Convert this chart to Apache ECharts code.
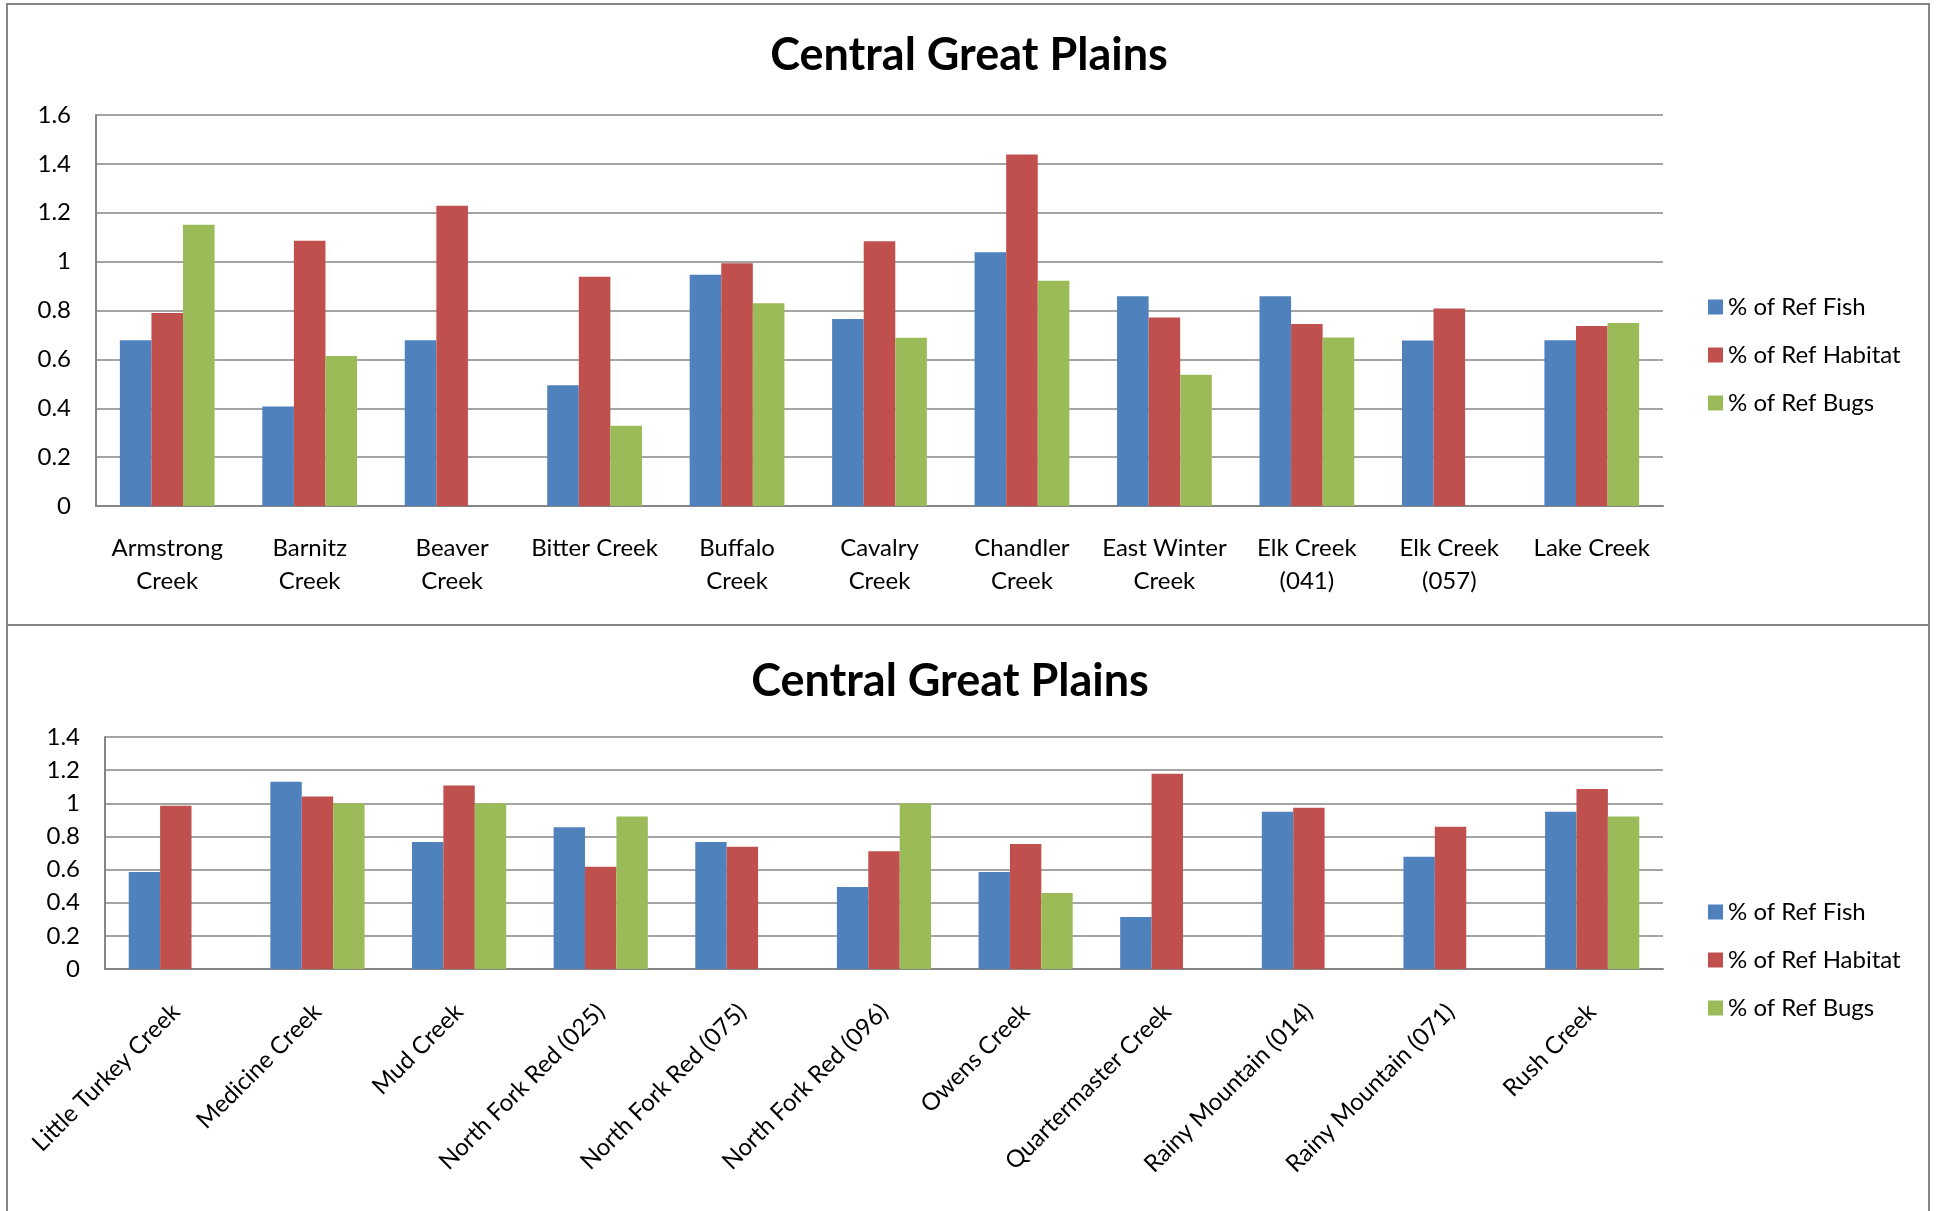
<!DOCTYPE html>
<html>
<head>
<meta charset="utf-8">
<script src="https://cdn.jsdelivr.net/npm/echarts@6/dist/echarts.min.js"></script>
<style>
  html, body { margin: 0; padding: 0; background: #fff; }
  #chart { width: 1936px; height: 1211px; }
</style>
</head>
<body>
<div id="chart"></div>
<script>
// ---- Data ----
const seriesNames = ['% of Ref Fish', '% of Ref Habitat', '% of Ref Bugs'];
const seriesColors = ['#4F81BD', '#C0504D', '#9BBB59'];

const topTitle = 'Central Great Plains';
const topCategories = ['Armstrong\nCreek', 'Barnitz\nCreek', 'Beaver\nCreek', 'Bitter Creek', 'Buffalo\nCreek',
  'Cavalry\nCreek', 'Chandler\nCreek', 'East Winter\nCreek', 'Elk Creek\n(041)', 'Elk Creek\n(057)', 'Lake Creek'];
const topFish    = [0.678, 0.407, 0.678, 0.494, 0.946, 0.765, 1.038, 0.858, 0.858, 0.677, 0.678];
const topHabitat = [0.790, 1.085, 1.229, 0.938, 0.993, 1.083, 1.438, 0.771, 0.745, 0.808, 0.737];
const topBugs    = [1.151, 0.614, null, 0.328, 0.830, 0.689, 0.922, 0.537, 0.690, null, 0.749];
const topYMax = 1.6;
const topYStep = 0.2;

const bottomTitle = 'Central Great Plains';
const bottomCategories = ['Little Turkey Creek', 'Medicine Creek', 'Mud Creek', 'North Fork Red (025)',
  'North Fork Red (075)', 'North Fork Red (096)', 'Owens Creek', 'Quartermaster Creek',
  'Rainy Mountain (014)', 'Rainy Mountain (071)', 'Rush Creek'];
const bottomFish    = [0.585, 1.130, 0.766, 0.856, 0.766, 0.495, 0.585, 0.314, 0.949, 0.678, 0.949];
const bottomHabitat = [0.985, 1.041, 1.108, 0.617, 0.738, 0.710, 0.754, 1.178, 0.973, 0.858, 1.086];
const bottomBugs    = [null, 1.000, 1.000, 0.921, null, 1.000, 0.458, null, null, null, 0.921];
const bottomYMax = 1.4;
const bottomYStep = 0.2;

// ---- Styling ----
const FONT = 'Lato';
const GRAY = '#868686';
const LABEL_SIZE = 24;

const chart = echarts.init(document.getElementById('chart'), null, { renderer: 'canvas' });

function yAxis(gridIndex, max, step) {
  return {
    type: 'value', gridIndex, min: 0, max, interval: step,
    axisLine: { show: true, lineStyle: { color: GRAY, width: 2 } },
    axisTick: { show: false },
    splitLine: { show: true, lineStyle: { color: GRAY, width: 1.5 } },
    axisLabel: { color: '#000', fontFamily: FONT, fontSize: LABEL_SIZE, margin: 25 }
  };
}

function barSeries(name, color, data, xi, yi, gap) {
  return {
    type: 'bar', name, data, xAxisIndex: xi, yAxisIndex: yi,
    itemStyle: { color },
    barGap: '0%', barCategoryGap: gap,
    emphasis: { disabled: true }, animation: false
  };
}

function legend(top) {
  return { data: seriesNames, orient: 'vertical', left: 1703, top, itemWidth: 15, itemHeight: 15,
    itemGap: 24, icon: 'rect', selectedMode: false,
    textStyle: { fontFamily: FONT, fontSize: LABEL_SIZE, color: '#000', lineHeight: 24 } };
}

const option = {
  animation: false,
  backgroundColor: '#fff',
  textStyle: { fontFamily: FONT },
  title: [
    { text: topTitle, left: 964, top: 28, textAlign: 'center',
      textStyle: { fontFamily: FONT, fontWeight: 'bold', fontSize: 45, color: '#000' } },
    { text: bottomTitle, left: 945, top: 654, textAlign: 'center',
      textStyle: { fontFamily: FONT, fontWeight: 'bold', fontSize: 45, color: '#000' } }
  ],
  legend: [ legend(290), legend(895) ],
  grid: [
    { left: 96, top: 115, width: 1567, height: 391, containLabel: false },
    { left: 105, top: 737, width: 1558, height: 232, containLabel: false }
  ],
  xAxis: [
    { type: 'category', gridIndex: 0, data: topCategories,
      axisLine: { show: true, lineStyle: { color: GRAY, width: 2 } },
      axisTick: { show: false },
      axisLabel: { color: '#000', fontFamily: FONT, fontSize: LABEL_SIZE, lineHeight: 33, margin: 26, interval: 0 } },
    { type: 'category', gridIndex: 1, data: bottomCategories,
      axisLine: { show: true, lineStyle: { color: GRAY, width: 2 } },
      axisTick: { show: false },
      axisLabel: { color: '#000', fontFamily: FONT, fontSize: LABEL_SIZE, rotate: 45, margin: 39, interval: 0 } }
  ],
  yAxis: [ yAxis(0, topYMax, topYStep), yAxis(1, bottomYMax, bottomYStep) ],
  series: [
    barSeries(seriesNames[0], seriesColors[0], topFish, 0, 0, '33.5%'),
    barSeries(seriesNames[1], seriesColors[1], topHabitat, 0, 0, '33.5%'),
    barSeries(seriesNames[2], seriesColors[2], topBugs, 0, 0, '33.5%'),
    barSeries(seriesNames[0], seriesColors[0], bottomFish, 1, 1, '33.5%'),
    barSeries(seriesNames[1], seriesColors[1], bottomHabitat, 1, 1, '33.5%'),
    barSeries(seriesNames[2], seriesColors[2], bottomBugs, 1, 1, '33.5%')
  ],
  graphic: [
    { type: 'rect', shape: { x: 7, y: 4, width: 1922, height: 621 },
      style: { fill: 'none', stroke: GRAY, lineWidth: 2 }, silent: true, z: -1 },
    { type: 'rect', shape: { x: 7, y: 625, width: 1922, height: 620 },
      style: { fill: 'none', stroke: GRAY, lineWidth: 2 }, silent: true, z: -1 }
  ]
};

chart.setOption(option);
</script>
</body>
</html>
